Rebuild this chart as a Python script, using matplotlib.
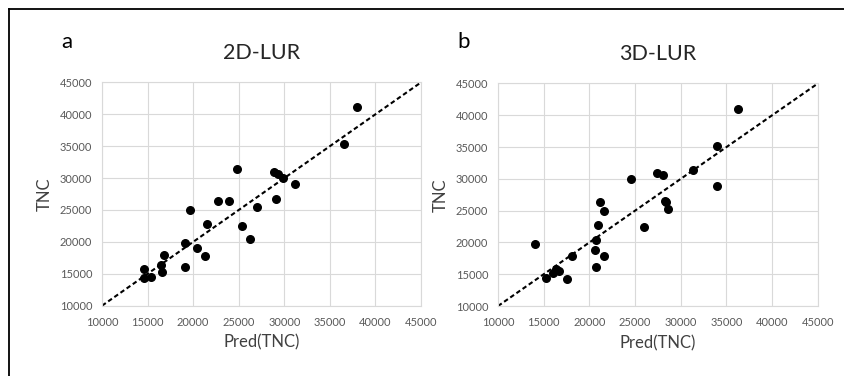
import matplotlib.pyplot as plt
from matplotlib.lines import Line2D

# Datos
tnc_2d = [41100, 35300, 31400, 30950, 30650, 30050, 29000, 26650, 26450, 26350,
          25450, 25050, 22750, 22500, 20500, 19800, 19000, 17950, 17850, 16300,
          15700, 16000, 15350, 14300, 14550]
pred_2d = [38000, 36500, 24800, 28850, 29300, 29900, 31200, 29050, 22750, 23900,
           26950, 19650, 21500, 25350, 26250, 19100, 20450, 16750, 21350, 16450,
           14550, 19100, 16550, 14550, 15400]

tnc_3d = [41000, 35200, 31350, 30950, 30600, 30000, 28950, 26550, 26400, 26350,
          25300, 24950, 22700, 22400, 20450, 19700, 18850, 17900, 17800, 16200,
          15250, 15850, 15550, 14400, 14250]
pred_3d = [36250, 33950, 31300, 27450, 28050, 24550, 33950, 28300, 21200, 28400,
           28600, 21550, 20950, 25950, 20750, 14000, 20650, 18100, 21550, 20750,
           16050, 16350, 16700, 15250, 17500]

ticks = [10000, 15000, 20000, 25000, 30000, 35000, 40000, 45000]

plt.rcParams['font.family'] = ['Lato', 'DejaVu Sans']

fig = plt.figure(figsize=(8.44, 3.76), dpi=100)

panels = [
    ([0.1209, 0.187, 0.378, 0.594], pred_2d, tnc_2d, "2D-LUR", "a", 0.079),
    ([0.590, 0.186, 0.379, 0.592], pred_3d, tnc_3d, "3D-LUR", "b", 0.549),
]

for rect, x, y, title, letter, lx in panels:
    ax = fig.add_axes(rect)
    ax.scatter(x, y, s=30, color="black", zorder=3)
    ax.plot([10000, 45000], [10000, 45000], color="black", linestyle=(0, (2.2, 1.4)),
            linewidth=1.5, zorder=2)
    ax.set_xlim(10000, 45000)
    ax.set_ylim(10000, 45000)
    ax.set_xticks(ticks)
    ax.set_yticks(ticks)
    ax.grid(True, color="#d9d9d9", linewidth=0.8)
    ax.set_axisbelow(True)
    for s in ax.spines.values():
        s.set_color("#d9d9d9")
        s.set_linewidth(0.8)
    ax.tick_params(length=0, labelsize=8, labelcolor="#595959")
    ax.tick_params(axis="x", pad=8)
    ax.tick_params(axis="y", pad=7)
    ax.set_xlabel("Pred(TNC)", fontsize=12, color="#404040", labelpad=5)
    ax.set_ylabel("TNC", fontsize=12, color="#404040", labelpad=5)
    ax.set_title(title, fontsize=15.5, color="#262626", pad=17)
    fig.text(lx, 0.888, letter, fontsize=16, color="black", ha="center", va="center")

# marco exterior (solo borde izquierdo y superior visibles)
fig.add_artist(Line2D([8.5 / 844, 8.5 / 844], [0, 1 - 8.5 / 376], color="black", linewidth=1.3))
fig.add_artist(Line2D([8.5 / 844, 1], [1 - 8.5 / 376, 1 - 8.5 / 376], color="black", linewidth=1.3))

fig.savefig("out.png", dpi=100, facecolor="white")
